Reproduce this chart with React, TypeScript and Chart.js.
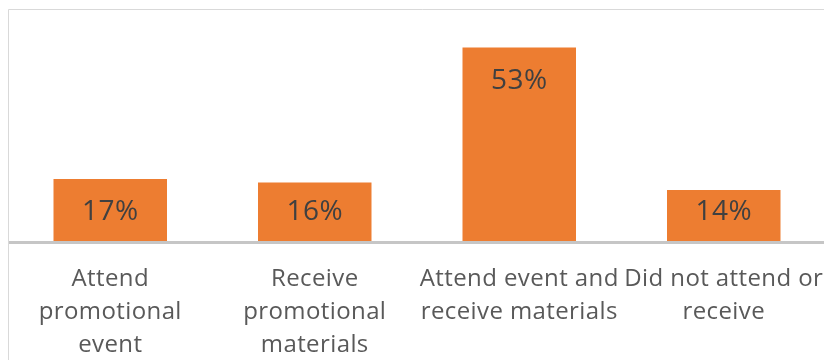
import React, { useEffect, useRef } from "react";
import { Chart, registerables } from "chart.js";

Chart.register(...registerables);

const categories: string[][] = [
  ["Attend", "promotional", "event"],
  ["Receive", "promotional", "materials"],
  ["Attend event and", "receive materials"],
  ["Did not attend or", "receive"],
];
const values: number[] = [17, 16, 53, 14];
const valueLabels: string[] = ["17%", "16%", "53%", "14%"];

const BAR_COLOR = "#ED7D31";

const framePlugin = {
  id: "frame",
  beforeDraw(chart: any) {
    const ctx = chart.ctx;
    ctx.letterSpacing = "0.4px";
    ctx.save();
    ctx.fillStyle = "#ffffff";
    ctx.fillRect(0, 0, chart.width, chart.height);
    ctx.strokeStyle = "#d9d9d9";
    ctx.lineWidth = 1;
    ctx.beginPath();
    ctx.moveTo(8.5, chart.height);
    ctx.lineTo(8.5, 9.5);
    ctx.lineTo(chart.width, 9.5);
    ctx.stroke();
    ctx.restore();
  },
};

const axisAndLabelsPlugin = {
  id: "axisAndLabels",
  afterDatasetsDraw(chart: any) {
    const ctx = chart.ctx;
    const area = chart.chartArea;
    ctx.save();
    ctx.fillStyle = "#c6c6c6";
    ctx.fillRect(9, area.bottom, chart.width, 3);
    const meta = chart.getDatasetMeta(0);
    ctx.font = "28px 'Open Sans'";
    ctx.fillStyle = "#404040";
    ctx.textAlign = "center";
    ctx.textBaseline = "middle";
    meta.data.forEach((bar: any, i: number) => {
      const y = Math.min(bar.y + 33, bar.base - 29);
      ctx.fillText(valueLabels[i], bar.x, y);
    });
    ctx.restore();
  },
};

export default function App() {
  const canvasRef = useRef<HTMLCanvasElement | null>(null);

  useEffect(() => {
    if (!canvasRef.current) return;
    const chart = new Chart(canvasRef.current, {
      type: "bar",
      data: {
        labels: categories,
        datasets: [
          {
            data: values,
            backgroundColor: BAR_COLOR,
            borderWidth: 0,
            barPercentage: 0.555,
            categoryPercentage: 1,
          },
        ],
      },
      options: {
        animation: false,
        responsive: false,
        maintainAspectRatio: false,
        devicePixelRatio: 1,
        layout: { padding: { top: 22, left: 8, right: 10, bottom: 0 } },
        plugins: {
          legend: { display: false },
          tooltip: { enabled: false },
          title: { display: false },
        },
        scales: {
          x: {
            grid: { display: false, drawTicks: false },
            border: { display: false },
            ticks: {
              color: "#595959",
              font: { family: "'Open Sans'", size: 24, lineHeight: 1.39 },
              padding: 21,
              maxRotation: 0,
              autoSkip: false,
            },
            afterFit: (scale: any) => {
              scale.height = 119;
              scale.paddingLeft = 0;
              scale.paddingRight = 0;
            },
          },
          y: {
            display: false,
            min: 0,
            max: 60,
          },
        },
      },
      plugins: [framePlugin, axisAndLabelsPlugin],
    });
    return () => chart.destroy();
  }, []);

  return (
    <div
      style={{
        position: "fixed",
        left: 0,
        top: 0,
        width: 824,
        height: 360,
        overflow: "hidden",
        background: "#ffffff",
      }}
    >
      <canvas
        ref={canvasRef}
        width={836}
        height={360}
        style={{ display: "block", width: 836, height: 360 }}
      />
    </div>
  );
}
